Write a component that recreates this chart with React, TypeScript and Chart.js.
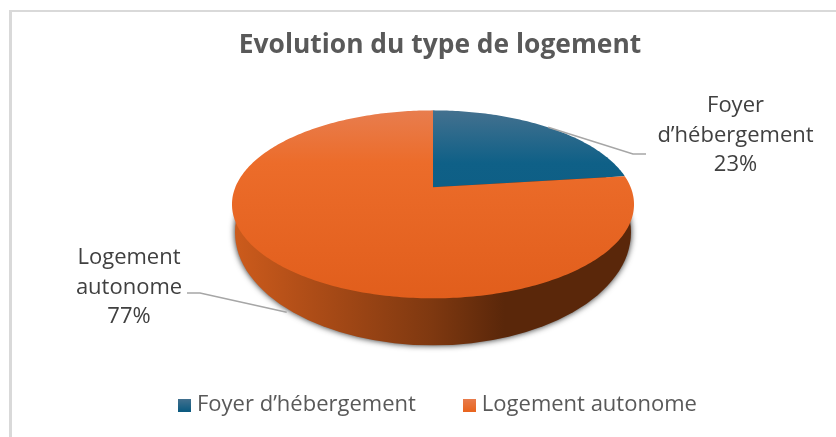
import React, { useEffect, useRef } from "react";
import { Chart, registerables } from "chart.js";

Chart.register(...registerables);

const categories = ["Foyer d’hébergement", "Logement autonome"];
const shares = [23, 77];
const chartTitle = "Evolution du type de logement";
const labelLines = [
  ["Foyer", "d’hébergement", "23%"],
  ["Logement", "autonome", "77%"],
];

const FONT = "'Open Sans', sans-serif";
const PIE_R = 100;
const LABEL_SIZE = 22;

const tilt = { k: -0.181, bx: 1.977, ay: 0.909, dx: -7, dy: -19.5, sideCy: 28, sideRy: 113, sideRx: 198 };

function project(arc: any, angle: number) {
  const u = Math.cos(angle);
  const v = Math.sin(angle);
  const w = 1 + tilt.k * v;
  const R = arc.outerRadius;
  return { x: arc.x + tilt.dx + (tilt.bx * R * u) / w, y: arc.y + tilt.dy + (tilt.ay * R * v) / w };
}

function facePath(ctx: CanvasRenderingContext2D, arc: any, a0: number, a1: number) {
  ctx.beginPath();
  ctx.moveTo(arc.x + tilt.dx, arc.y + tilt.dy);
  const steps = Math.max(8, Math.ceil((a1 - a0) * 60));
  for (let i = 0; i <= steps; i++) {
    const p = project(arc, a0 + ((a1 - a0) * i) / steps);
    ctx.lineTo(p.x, p.y);
  }
  ctx.closePath();
}

const pie3d = {
  id: "pie3d",
  beforeDatasetDraw(chart: any) {
    const { ctx } = chart;
    const arcs = chart.getDatasetMeta(0).data;
    const first = arcs[0];
    const top = project(first, -Math.PI / 2).y;
    const bottom = project(first, Math.PI / 2).y;
    const cx = first.x + tilt.dx;
    const cy = (top + bottom) / 2;

    // side wall
    const rx = tilt.sideRx;
    const side = ctx.createLinearGradient(cx - rx, 0, cx + rx, 0);
    side.addColorStop(0, "#CC5B1C");
    side.addColorStop(0.16, "#B34F18");
    side.addColorStop(0.5, "#7E3810");
    side.addColorStop(0.68, "#5A270A");
    side.addColorStop(1, "#5A270A");
    ctx.save();
    ctx.shadowColor = "rgba(0,0,0,0.85)";
    ctx.shadowBlur = 6;
    ctx.fillStyle = side;
    ctx.beginPath();
    ctx.ellipse(cx, cy + tilt.sideCy, rx, tilt.sideRy, 0, 0, Math.PI * 2);
    ctx.fill();
    ctx.restore();

    // top faces
    const stops = [
      ["#E87D4E", "#EC6C2A", "#E15E1C"],
      ["#44718F", "#0F6087", "#0B5A80"],
    ];
    const grad = (c: string[]) => {
      const g = ctx.createLinearGradient(0, top, 0, bottom);
      g.addColorStop(0, c[0]);
      g.addColorStop(0.28, c[1]);
      g.addColorStop(1, c[2]);
      return g;
    };
    arcs.forEach((arc: any, i: number) => {
      facePath(ctx, arc, arc.startAngle, arc.endAngle);
      ctx.fillStyle = grad(i === 0 ? stops[1] : stops[0]);
      ctx.fill();
    });
    return false;
  },
  afterDraw(chart: any) {
    const { ctx } = chart;
    const arcs = chart.getDatasetMeta(0).data;
    const mid = (a: any) => project(a, (a.startAngle + a.endAngle) / 2);
    const m0 = mid(arcs[0]);
    const m1 = mid(arcs[1]);
    ctx.save();
    ctx.strokeStyle = "#A6A6A6";
    ctx.lineWidth = 1.5;
    const leaders = [
      [[m0.x, m0.y], [633, 154], [646, 154]],
      [[m1.x + 5, m1.y + 46], [200, 293], [187, 293]],
    ];
    leaders.forEach((l) => {
      ctx.beginPath();
      l.forEach((p, i) => (i ? ctx.lineTo(p[0], p[1]) : ctx.moveTo(p[0], p[1])));
      ctx.stroke();
    });
    ctx.fillStyle = "#404040";
    ctx.font = `${LABEL_SIZE}px ${FONT}`;
    ctx.textAlign = "center";
    ctx.textBaseline = "middle";
    const anchors = [
      [735.5, 106],
      [129, 258],
    ];
    labelLines.forEach((lines, i) => {
      lines.forEach((t, j) => ctx.fillText(t, anchors[i][0], anchors[i][1] + j * 29.5));
    });
    ctx.restore();
  },
};

function swatch(a: string, b: string) {
  const c = document.createElement("canvas");
  c.width = 13;
  c.height = 13;
  const x = c.getContext("2d")!;
  const g = x.createLinearGradient(0, 0, 0, 13);
  g.addColorStop(0, a);
  g.addColorStop(1, b);
  x.fillStyle = g;
  x.fillRect(0, 0, 13, 13);
  return c;
}

export default function App() {
  const ref = useRef<HTMLCanvasElement>(null);
  useEffect(() => {
    document.body.style.margin = "0";
    const canvas = ref.current!;
    const swatches = [swatch("#44718F", "#0B5A80"), swatch("#E87D4E", "#E9651F")];
    const chart = new Chart(canvas, {
      type: "pie",
      data: {
        labels: categories,
        datasets: [
          {
            data: shares,
            backgroundColor: ["#156082", "#E97132"],
            borderWidth: 0,
            radius: PIE_R,
          },
        ],
      },
      plugins: [pie3d],
      options: {
        animation: false,
        responsive: false,
        events: [],
        layout: { padding: { left: 131, right: 87, bottom: 11 } },
        plugins: {
          tooltip: { enabled: false },
          title: {
            display: true,
            text: chartTitle,
            color: "#595959",
            font: { family: FONT, size: 26.4, weight: "bold" },
            padding: { top: 30, bottom: 10 },
          },
          legend: {
            position: "bottom",
            align: "start",
            labels: {
              usePointStyle: true,
              pointStyleWidth: 3,
              boxHeight: 13,
              padding: 52,
              color: "#595959",
              font: { family: FONT, size: LABEL_SIZE },
              generateLabels: () =>
                categories.map((text, index) => ({
                  text,
                  index,
                  hidden: false,
                  pointStyle: swatches[index],
                  fillStyle: "#000",
                  strokeStyle: "transparent",
                  lineWidth: 0,
                  fontColor: "#595959",
                })),
            },
          },
        },
      },
    } as any);
    return () => chart.destroy();
  }, []);
  return (
    <div style={{ position: "relative", width: 836, height: 437, background: "#fff", overflow: "hidden" }}>
      <canvas ref={ref} width={836} height={437} style={{ display: "block" }} />
      <div style={{ position: "absolute", left: 9, top: 10, right: 0, bottom: 0, boxSizing: "border-box", borderTop: "2px solid #D9D9D9", borderLeft: "3px solid #D9D9D9", pointerEvents: "none" }} />
    </div>
  );
}
